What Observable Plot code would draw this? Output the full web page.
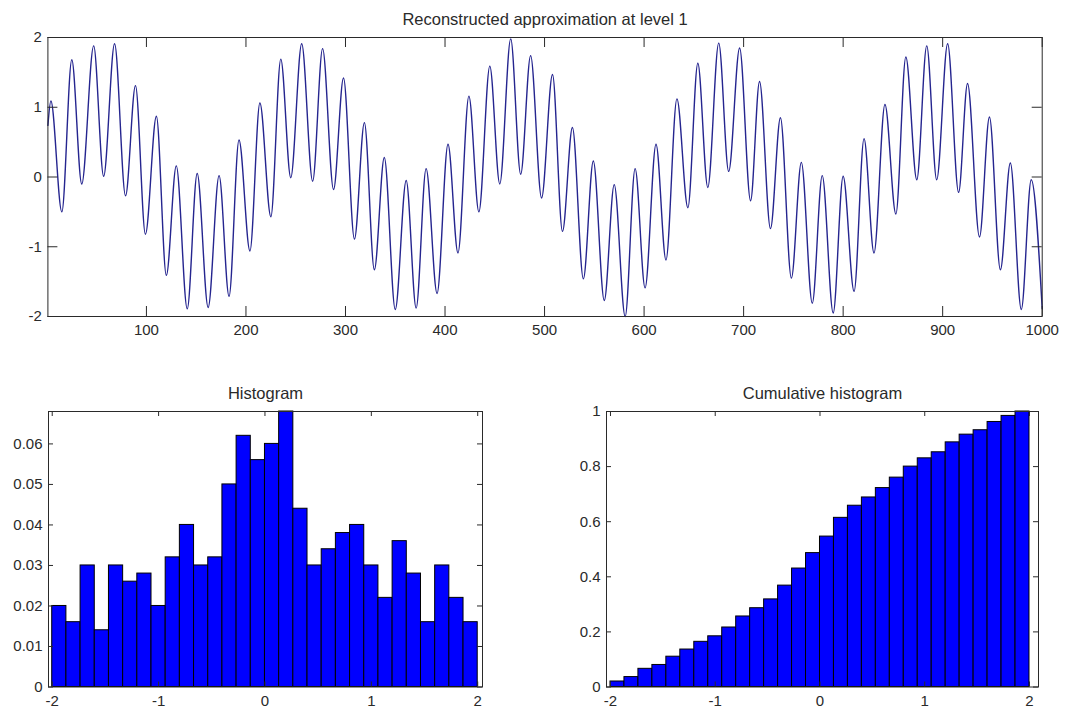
<!DOCTYPE html>
<html><head><meta charset="utf-8">
<script src="https://cdn.jsdelivr.net/npm/d3@7"></script>
<script src="https://cdn.jsdelivr.net/npm/@observablehq/plot@0.6"></script>
<style>
html,body{margin:0;padding:0;background:#fff;}
#chart{position:relative;width:1067px;height:711px;overflow:hidden;background:#fff;}
#chart svg{position:absolute;left:0;top:0;}
</style></head><body><div id="chart"></div>
<script>
// Top panel: extrema (sample index, value)
const signalIndex = [1,4,15,25,35,47,57,68,79,89,99,110,120,130,141,151,162,173,183,193,204,214,225,235,245,256,267,277,288,298,309,319,329,339,350,361,371,381,392,403,413,424,434,445,455,466,476,486,497,508,518,528,539,549,560,570,581,591,601,612,622,633,644,654,664,675,685,696,707,716,727,737,748,758,769,779,790,800,811,821,831,842,853,863,874,884,894,905,916,925,937,947,958,968,979,989,1000];
const signalValue = [0.74,1.09,-0.50,1.68,-0.10,1.88,0.01,1.91,-0.27,1.31,-0.82,0.87,-1.41,0.16,-1.89,0.05,-1.87,0.02,-1.71,0.53,-1.06,1.06,-0.57,1.69,-0.01,1.91,-0.06,1.84,-0.18,1.42,-0.89,0.78,-1.33,0.28,-1.90,-0.05,-1.88,0.12,-1.67,0.47,-1.09,1.16,-0.50,1.59,-0.10,1.98,0.04,1.74,-0.30,1.47,-0.78,0.71,-1.46,0.23,-1.77,-0.11,-2.00,0.12,-1.59,0.47,-1.19,1.12,-0.44,1.63,-0.15,1.92,0.08,1.85,-0.34,1.37,-0.74,0.85,-1.45,0.21,-1.81,0.02,-1.95,0.01,-1.64,0.55,-1.09,1.04,-0.53,1.72,-0.04,1.88,-0.04,1.91,-0.22,1.34,-0.86,0.86,-1.33,0.20,-1.90,-0.04,-1.89];

// Histogram (30 bins from -2 to 2)
const binStart = -2, binEnd = 2;
const histValue = [0.020,0.016,0.030,0.014,0.030,0.026,0.028,0.020,0.032,0.040,0.030,0.032,0.050,0.062,0.056,0.060,0.068,0.044,0.030,0.034,0.038,0.040,0.030,0.022,0.036,0.028,0.016,0.030,0.022,0.016];
const cumValue = [0.020,0.036,0.066,0.080,0.110,0.136,0.164,0.184,0.216,0.256,0.286,0.318,0.368,0.430,0.486,0.546,0.614,0.658,0.688,0.722,0.760,0.800,0.830,0.852,0.888,0.916,0.932,0.962,0.984,1.000];

// Tick labels
const topXTicks = [100,200,300,400,500,600,700,800,900,1000];
const topYTicks = [-2,-1,0,1,2];
const histXTicks = [-2,-1,0,1,2];
const histYTicks = [0,0.01,0.02,0.03,0.04,0.05,0.06];
const cumYTicks = [0,0.2,0.4,0.6,0.8,1];

const titles = ["Reconstructed approximation at level 1", "Histogram", "Cumulative histogram"];

const W = 1067, H = 711;
const FONT = "'Liberation Sans', Arial, Helvetica, sans-serif";
const INK = "#2a2a2a";
const fmt = d => String(d);

const binW = (binEnd - binStart) / histValue.length;
const histData = histValue.map((v, i) => ({x1: binStart + i * binW, x2: binStart + (i + 1) * binW, v}));
const cumData = cumValue.map((v, i) => ({x1: binStart + i * binW, x2: binStart + (i + 1) * binW, v}));
const signal = signalIndex.map((t, i) => ({t, v: signalValue[i]}));

function panel({frame, xDomain, yDomain, xTicks, yTicks, tickLen, title, marks}) {
  const [L, T, R, B] = frame;
  const kx = tickLen * (xDomain[1] - xDomain[0]) / (R - L);
  const ky = tickLen * (yDomain[1] - yDomain[0]) / (B - T);
  const [x0, x1] = xDomain, [y0, y1] = yDomain;
  return Plot.plot({
    width: W, height: H,
    marginLeft: L, marginRight: W - R, marginTop: T, marginBottom: H - B,
    style: {background: "transparent", fontFamily: FONT, fontSize: "15px", color: INK, overflow: "visible"},
    x: {domain: xDomain},
    y: {domain: yDomain},
    marks: [
      ...marks,
      Plot.ruleX(xTicks, {x: d => d, y1: y0, y2: y0 + ky, stroke: INK}),
      Plot.ruleX(xTicks, {x: d => d, y1: y1, y2: y1 - ky, stroke: INK}),
      Plot.ruleY(yTicks, {y: d => d, x1: x0, x2: x0 + kx, stroke: INK}),
      Plot.ruleY(yTicks, {y: d => d, x1: x1, x2: x1 - kx, stroke: INK}),
      Plot.frame({stroke: INK}),
      Plot.axisX(xTicks, {anchor: "bottom", tickSize: 0, tickPadding: 8, tickFormat: fmt, fontSize: 15, fill: INK, label: null}),
      Plot.axisY(yTicks, {anchor: "left", tickSize: 0, tickPadding: 6, tickFormat: fmt, fontSize: 15, fill: INK, label: null}),
      Plot.text([title], {frameAnchor: "top", dy: -24, fontSize: 16.5, fill: INK})
    ]
  });
}

const chart = document.getElementById("chart");

chart.append(panel({
  frame: [47.4, 37, 1041.7, 316],
  xDomain: [1, 1000], yDomain: [-2, 2],
  xTicks: topXTicks, yTicks: topYTicks, tickLen: 10, title: titles[0],
  marks: [
    Plot.line(signal, {x: "t", y: "v", curve: "monotone-x", stroke: "#25258f", strokeWidth: 1.4})
  ]
}));

chart.append(panel({
  frame: [48, 411, 482, 686.5],
  xDomain: [-2.035, 2.045], yDomain: [0, 0.068],
  xTicks: histXTicks, yTicks: histYTicks, tickLen: 5, title: titles[1],
  marks: [
    Plot.rect(histData, {x1: "x1", x2: "x2", y1: d => 0, y2: "v", fill: "#0000ff", stroke: "#000", strokeWidth: 1})
  ]
}));

chart.append(panel({
  frame: [606, 411, 1038, 686.5],
  xDomain: [-2.038, 2.086], yDomain: [0, 1],
  xTicks: histXTicks, yTicks: cumYTicks, tickLen: 5, title: titles[2],
  marks: [
    Plot.rect(cumData, {x1: "x1", x2: "x2", y1: d => 0, y2: "v", fill: "#0000ff", stroke: "#000", strokeWidth: 1})
  ]
}));
</script>
</body></html>
